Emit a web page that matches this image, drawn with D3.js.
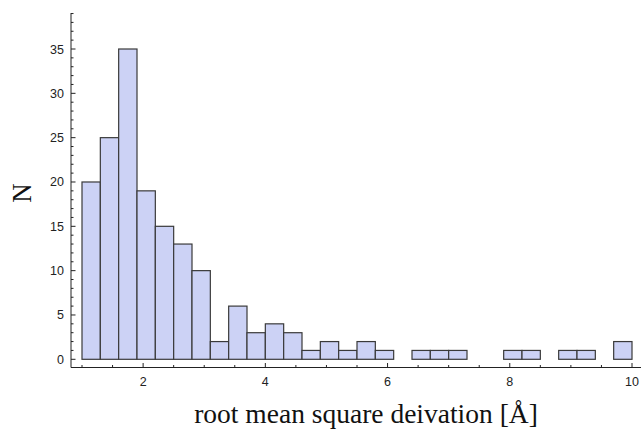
<!DOCTYPE html>
<html>
<head>
<meta charset="utf-8">
<script src="https://cdn.jsdelivr.net/npm/d3@7"></script>
<style>
  html, body { margin: 0; padding: 0; background: #fff; }
  svg { display: block; }
</style>
</head>
<body>
<svg id="chart" width="641" height="433"></svg>
<script>
// Histogram of RMSD values, bins of 0.3 Å starting at 1.0 Å
const binStarts = [1.0, 1.3, 1.6, 1.9, 2.2, 2.5, 2.8, 3.1, 3.4, 3.7,
                   4.0, 4.3, 4.6, 4.9, 5.2, 5.5, 5.8, 6.1, 6.4, 6.7,
                   7.0, 7.3, 7.6, 7.9, 8.2, 8.5, 8.8, 9.1, 9.4, 9.7];
const counts    = [20, 25, 35, 19, 15, 13, 10, 2, 6, 3,
                   4, 3, 1, 2, 1, 2, 1, 0, 1, 1,
                   1, 0, 0, 1, 1, 0, 1, 1, 0, 2];
const binWidth = 0.3;
const xMajorTicks = [2, 4, 6, 8, 10];
const yMajorTicks = [0, 5, 10, 15, 20, 25, 30, 35];
const xLabel = "root mean square deivation [Å]";
const yLabel = "N";

const svg = d3.select("#chart");

const x = d3.scaleLinear().domain([1, 10]).range([82, 632]);
const y = d3.scaleLinear().domain([0, 35]).range([359.3, 49]);

const axisX0 = 71, axisY0 = 367.5;

const bins = binStarts.map((s, i) => ({ x0: s, x1: s + binWidth, n: counts[i] }))
  .filter(d => d.n > 0);

// bars
svg.append("g")
  .selectAll("rect")
  .data(bins)
  .join("rect")
  .attr("x", d => x(d.x0))
  .attr("y", d => y(d.n))
  .attr("width", d => x(d.x1) - x(d.x0))
  .attr("height", d => y(0) - y(d.n))
  .attr("fill", "#ccd2f5")
  .attr("stroke", "#3a3a3a")
  .attr("stroke-width", 1.2);

// x axis line and inward ticks
const gx = svg.append("g").attr("stroke", "#222").attr("stroke-width", 1);
gx.append("line").attr("x1", axisX0).attr("x2", 641).attr("y1", axisY0).attr("y2", axisY0);
const xMinor = d3.range(1, 10.01, 0.5);
gx.selectAll("line.t").data(xMinor).join("line").attr("class", "t")
  .attr("x1", d => x(d)).attr("x2", d => x(d))
  .attr("y1", axisY0)
  .attr("y2", d => axisY0 - (Math.abs(d % 2) < 1e-9 ? 4.5 : 2.5));

svg.append("g").selectAll("text").data(xMajorTicks).join("text")
  .attr("x", d => x(d)).attr("y", 386)
  .attr("text-anchor", "middle")
  .attr("font-family", "'Liberation Sans', Arial, sans-serif")
  .attr("font-size", 12.5)
  .attr("fill", "#222")
  .text(d => d);

// y axis line and inward ticks
const gy = svg.append("g").attr("stroke", "#222").attr("stroke-width", 1);
gy.append("line").attr("x1", axisX0).attr("x2", axisX0).attr("y1", axisY0).attr("y2", y(39) - 0.5);
const yMinor = d3.range(0, 40, 1);
gy.selectAll("line.t").data(yMinor).join("line").attr("class", "t")
  .attr("y1", d => y(d)).attr("y2", d => y(d))
  .attr("x1", axisX0)
  .attr("x2", d => axisX0 + (d % 5 === 0 ? 4.5 : 2.5));

svg.append("g").selectAll("text").data(yMajorTicks).join("text")
  .attr("x", 64).attr("y", d => y(d) + 4.5)
  .attr("text-anchor", "end")
  .attr("font-family", "'Liberation Sans', Arial, sans-serif")
  .attr("font-size", 12.5)
  .attr("fill", "#222")
  .text(d => d);

// axis titles
svg.append("text")
  .attr("x", 366).attr("y", 423)
  .attr("text-anchor", "middle")
  .attr("font-family", "'Liberation Serif', 'Times New Roman', serif")
  .attr("font-size", 27.5)
  .attr("fill", "#111")
  .text(xLabel);

svg.append("text")
  .attr("transform", "translate(30.5,193) rotate(-90)")
  .attr("text-anchor", "middle")
  .attr("font-family", "'Liberation Serif', 'Times New Roman', serif")
  .attr("font-size", 27)
  .attr("fill", "#111")
  .text(yLabel);
</script>
</body>
</html>
